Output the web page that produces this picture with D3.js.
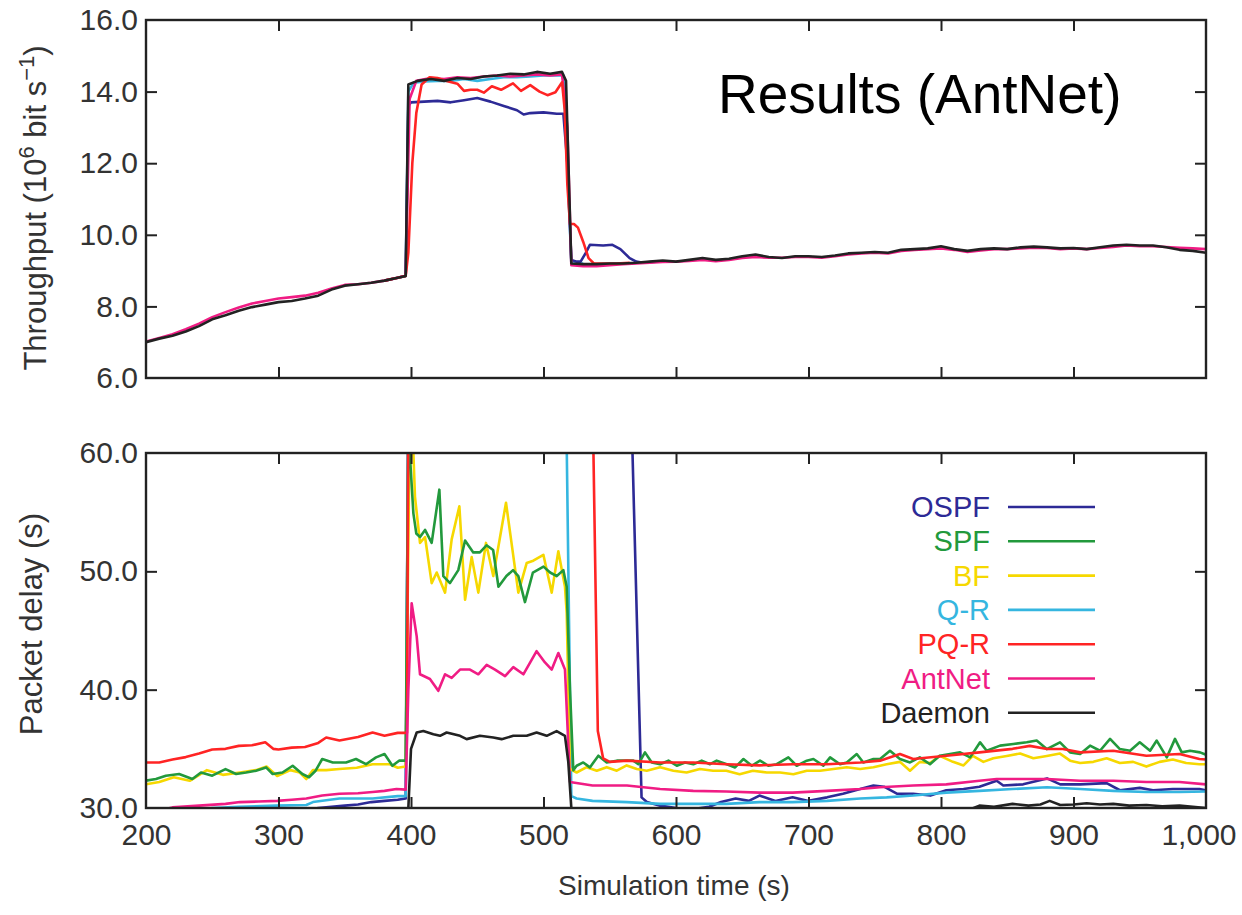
<!DOCTYPE html>
<html>
<head>
<meta charset="utf-8">
<script src="https://cdn.jsdelivr.net/npm/d3@7"></script>
<style>
  html, body { margin: 0; padding: 0; background: #fff; }
  svg { display: block; font-family: "Liberation Sans", Arial, Helvetica, sans-serif; }
</style>
</head>
<body>
<svg id="chart" width="1242" height="915"></svg>
<script>
// ---------------- DATA ----------------
const seriesNames = ["OSPF", "SPF", "BF", "Q-R", "PQ-R", "AntNet", "Daemon"];
const xTicks = [200, 300, 400, 500, 600, 700, 800, 900, 1000];
const throughputTicks = [6, 8, 10, 12, 14, 16];
const delayTicks = [30, 40, 50, 60];

// Throughput (10^6 bit/s) — [time, value]
const thrDaemon = [[200,7.0],[210,7.1],[220,7.18],[230,7.3],[240,7.45],[250,7.64],[260,7.75],[270,7.88],[280,7.98],[290,8.05],[300,8.12],[310,8.15],[320,8.22],[330,8.3],[340,8.47],[350,8.58],[360,8.62],[370,8.66],[380,8.72],[390,8.8],[396,8.85],[398,14.2],[405,14.3],[415,14.35],[425,14.3],[435,14.38],[445,14.35],[455,14.42],[465,14.45],[475,14.5],[485,14.48],[495,14.55],[505,14.5],[514,14.55],[517,14.3],[521,9.2],[530,9.18],[540,9.18],[550,9.2],[560,9.2],[570,9.22],[580,9.25],[590,9.28],[600,9.25],[610,9.3],[620,9.35],[630,9.3],[640,9.33],[650,9.4],[660,9.45],[670,9.38],[680,9.35],[690,9.4],[700,9.4],[710,9.38],[720,9.42],[730,9.48],[740,9.5],[750,9.52],[760,9.5],[770,9.58],[780,9.6],[790,9.62],[800,9.68],[810,9.6],[820,9.55],[830,9.6],[840,9.62],[850,9.6],[860,9.65],[870,9.67],[880,9.65],[890,9.62],[900,9.63],[910,9.6],[920,9.65],[930,9.7],[940,9.72],[950,9.7],[960,9.7],[970,9.65],[980,9.58],[990,9.55],[1000,9.5]];
const thrAntNet = [[200,7.02],[210,7.12],[220,7.22],[230,7.36],[240,7.52],[250,7.7],[260,7.84],[270,7.97],[280,8.08],[290,8.15],[300,8.22],[310,8.26],[320,8.3],[330,8.38],[340,8.5],[350,8.6],[360,8.62],[370,8.66],[380,8.72],[390,8.8],[396,8.86],[399,13.8],[404,14.3],[415,14.38],[425,14.35],[435,14.4],[445,14.38],[455,14.42],[465,14.45],[475,14.42],[485,14.45],[495,14.48],[505,14.45],[514,14.48],[518,13.0],[521,9.15],[530,9.12],[540,9.12],[550,9.15],[560,9.18],[570,9.2],[580,9.22],[590,9.24],[600,9.25],[610,9.27],[620,9.3],[630,9.26],[640,9.3],[650,9.35],[660,9.38],[670,9.36],[680,9.36],[690,9.38],[700,9.38],[710,9.36],[720,9.4],[730,9.45],[740,9.48],[750,9.5],[760,9.48],[770,9.55],[780,9.58],[790,9.6],[800,9.62],[810,9.58],[820,9.52],[830,9.56],[840,9.6],[850,9.6],[860,9.62],[870,9.64],[880,9.63],[890,9.6],[900,9.62],[910,9.6],[920,9.63],[930,9.66],[940,9.7],[950,9.68],[960,9.68],[970,9.66],[980,9.64],[990,9.62],[1000,9.6]];
const thrPQR = [[380,8.72],[390,8.8],[396,8.85],[398,9.5],[401,12.0],[404,13.4],[408,14.2],[414,14.4],[420,14.38],[426,14.3],[435,14.22],[440,14.02],[445,14.05],[450,14.05],[455,13.97],[461,14.15],[468,14.05],[477,14.23],[483,14.02],[490,14.18],[497,14.0],[503,13.9],[509,13.98],[514,14.26],[516,13.5],[518,11.4],[520,10.3],[523,10.3],[526,10.2],[530,9.8],[534,9.35],[538,9.2],[545,9.2],[555,9.2],[565,9.22]];
const thrOSPF = [[380,8.72],[390,8.8],[396,8.85],[398,13.6],[400,13.7],[410,13.72],[420,13.74],[430,13.7],[440,13.76],[450,13.82],[460,13.72],[470,13.6],[480,13.48],[485,13.36],[490,13.4],[500,13.42],[510,13.38],[515,13.38],[518,12.0],[521,9.3],[525,9.25],[528,9.25],[532,9.5],[535,9.72],[545,9.7],[552,9.72],[558,9.6],[565,9.35],[570,9.25],[575,9.22],[585,9.25]];
const thrQR = [[390,8.8],[396,8.85],[398,14.0],[402,14.25],[410,14.28],[420,14.3],[430,14.3],[440,14.35],[450,14.3],[460,14.35],[470,14.4],[480,14.4],[490,14.42],[500,14.45],[510,14.45],[515,14.45],[518,12.0],[521,9.2],[530,9.2]];

// Packet delay (s) — [time, value]
const delOSPF = [[200,29.0],[250,29.3],[300,29.6],[320,29.8],[330,30.0],[340,30.1],[350,30.2],[360,30.3],[370,30.5],[380,30.6],[390,30.7],[396,30.8],[398,65],[566,65],[574,30.9],[578,30.5],[588,30.2],[600,30.0],[612,29.9],[625,30.1],[634,30.5],[645,30.8],[655,30.6],[663,31.05],[675,30.6],[688,30.9],[700,30.6],[714,30.9],[726,31.2],[739,31.6],[749,31.9],[757,31.8],[767,31.2],[779,31.2],[792,31.05],[804,31.5],[817,31.6],[829,31.8],[842,32.3],[847,31.9],[862,32.0],[880,32.5],[890,32.0],[905,32.0],[925,32.1],[935,31.5],[950,31.7],[960,31.5],[975,31.6],[995,31.6],[1000,31.5]];
const delSPF = [[200,32.31],[207.5,32.45],[215,32.73],[225,32.87],[235,32.45],[241.5,33.0],[250,32.73],[260,33.29],[268,32.87],[275.5,33.0],[283,33.15],[290.6,33.43],[295.6,32.87],[303,33.0],[310.7,33.57],[318,32.87],[323,32.6],[328,33.15],[333,34.14],[341,33.85],[351,33.85],[358.5,34.14],[366,33.7],[373.6,34.28],[380,34.56],[386,33.57],[391,34.0],[396,34.0],[398,62],[401.8,54.9],[404,53.2],[406.8,52.9],[410.6,53.5],[415.6,52.4],[421.4,56.9],[424.4,49.6],[429.4,49.0],[435.7,50.1],[440.8,52.6],[447,51.6],[452,51.6],[457,52.2],[462,51.8],[466,48.7],[472,49.6],[477,50.1],[481,49.6],[486,47.4],[492,49.9],[500,50.4],[505,49.9],[510,49.6],[515,50.1],[517.5,48.7],[520,40.0],[522.5,33.2],[525,33.57],[530,33.85],[535,33.43],[541.4,34.42],[547.7,33.85],[555.3,34.0],[562.8,34.0],[567.8,34.0],[571.6,33.7],[576.6,34.7],[581.7,33.85],[588,33.7],[594.3,34.0],[600.6,33.57],[606.8,33.85],[613.1,33.7],[619.4,34.0],[625.7,33.7],[630.7,34.0],[638.3,33.7],[644.6,33.43],[650.9,34.14],[657.2,33.57],[663.4,34.0],[669.7,33.57],[676,33.7],[684.8,34.28],[691.1,33.57],[698.7,34.0],[703.7,34.14],[711.2,33.57],[716.3,34.28],[723.8,33.7],[728.9,33.85],[736.4,34.56],[741.4,33.85],[749,34.14],[754,34.14],[761.5,34.84],[769,34.14],[776.6,33.85],[784,34.28],[791.7,33.7],[799,34.42],[806.8,34.56],[814.4,34.7],[822,34.28],[829.5,35.55],[834.5,34.84],[844.6,35.27],[854.6,35.41],[864.7,35.55],[872.2,35.7],[879.8,34.98],[889.8,35.55],[897.4,34.7],[905,34.56],[912.5,35.27],[920,34.84],[927.6,35.84],[935,34.98],[942.7,34.84],[950,35.55],[957.8,34.84],[962.8,35.7],[970.4,34.28],[976.6,35.84],[981.7,34.7],[988,34.84],[995.5,34.7],[1000,34.5]];
const delBF = [[200,32.0],[210,32.2],[221,32.6],[233,32.3],[246,33.2],[258,32.8],[271,33.0],[283,33.2],[291,33.5],[299,32.7],[309,33.2],[316,33.0],[321,32.45],[326,33.2],[336,33.2],[346,33.3],[359,33.4],[371,33.7],[380,33.7],[384,33.7],[390,33.4],[396,33.5],[399,62],[401.8,60],[403,56.3],[406.8,52.4],[410.6,52.9],[415.6,49.0],[419.4,49.9],[425.7,48.2],[430.7,52.7],[436.5,55.5],[440.8,47.6],[445.8,51.2],[450.8,48.2],[456.6,52.4],[462.1,49.6],[471.7,55.8],[481,48.2],[487.3,50.7],[492.3,50.9],[499.9,51.4],[506.2,48.2],[511.2,51.7],[516.2,48.7],[517.5,46.5],[520,33.3],[525,33.0],[532.6,33.45],[540.2,33.15],[547.7,33.45],[555.3,33.15],[562.8,33.6],[570.4,33.3],[577.9,33.15],[588,33.45],[598,33.15],[608,33.0],[618,33.3],[628,33.15],[638,33.15],[648,32.85],[658,33.15],[668.5,33.0],[678.5,33.0],[688.6,32.85],[698.7,33.15],[708.7,33.15],[718.8,33.3],[728.9,33.45],[739,33.3],[749,33.45],[759,33.7],[769,33.9],[776.6,33.15],[784,33.9],[791.7,33.8],[799,34.4],[809,33.9],[817,33.6],[824,34.4],[832,33.9],[839.5,34.2],[849.6,34.4],[859.7,34.6],[869.7,34.2],[879.8,34.4],[889.8,34.6],[897.4,34.0],[905,33.8],[915,33.9],[925,34.2],[935,33.8],[945,33.9],[955,33.5],[965,33.9],[975,34.1],[985,33.8],[995,33.7],[1000,33.7]];
const delQR = [[200,29.0],[230,29.5],[250,30.0],[270,30.1],[298,30.2],[321,30.25],[326,30.5],[346,30.8],[371,30.8],[390,31.0],[396,31.0],[398,65],[517,65],[521,31.0],[525,30.8],[537,30.6],[563,30.5],[588,30.35],[613,30.35],[638,30.35],[663,30.5],[688,30.5],[714,30.6],[739,30.8],[759,30.9],[779,31.05],[804,31.3],[829,31.45],[854,31.6],[880,31.75],[905,31.6],[930,31.45],[955,31.35],[980,31.35],[1000,31.4]];
const delPQR = [[200,33.85],[210,33.85],[220,34.1],[230,34.3],[240,34.6],[250,34.95],[260,35.0],[270,35.25],[280,35.3],[290,35.55],[296,35.0],[300,34.95],[310,35.1],[320,35.15],[330,35.5],[336,35.96],[346,35.7],[360,36.0],[371,36.38],[380,36.1],[390,36.35],[397,36.35],[398,65],[537,65],[541,36.5],[545,34.2],[550,33.9],[563,34.0],[588,33.85],[613,33.85],[638,33.7],[663,33.6],[688,33.7],[714,33.7],[739,33.85],[754,34.0],[769,34.56],[779,34.14],[804,34.42],[829,34.7],[854,35.0],[867,35.25],[880,34.98],[892,34.98],[905,34.7],[930,34.84],[955,34.42],[980,34.56],[995,34.14],[1000,34.1]];
const delAntNet = [[200,29.6],[210,29.8],[220,30.05],[240,30.2],[260,30.35],[271,30.5],[285,30.55],[299,30.6],[310,30.7],[321,30.8],[333,31.05],[346,31.2],[360,31.25],[371,31.35],[380,31.45],[389,31.6],[396,31.55],[398,40.0],[400.5,47.3],[404.3,44.5],[406.8,41.3],[414.3,40.9],[420.6,39.9],[425.7,41.3],[430.7,41.0],[437,41.7],[444.5,41.7],[450.8,41.3],[457.1,42.1],[463.4,41.7],[471,41.15],[477.2,41.9],[484.8,41.3],[494.8,43.25],[501.1,42.3],[506.2,41.7],[511.2,43.1],[516.2,41.7],[520,32.2],[537,31.9],[563,31.9],[588,31.6],[613,31.45],[638,31.4],[663,31.3],[688,31.3],[714,31.45],[739,31.6],[754,31.75],[779,31.9],[804,32.0],[829,32.3],[842,32.45],[854,32.45],[880,32.45],[905,32.3],[930,32.3],[955,32.2],[980,32.2],[1000,32.0]];
const delDaemon = [[200,29.0],[300,29.2],[396,29.5],[398,30.0],[400,35.0],[404.3,36.38],[409.3,36.5],[416.9,36.24],[421.9,36.1],[426.9,36.38],[437,36.1],[442,35.82],[452,36.1],[462.1,35.96],[468.4,35.82],[477.2,36.1],[487.3,36.1],[494.8,36.38],[502.4,36.1],[509.9,36.5],[516.2,36.1],[518.7,33.9],[521.3,29.5],[600,29.3],[700,29.4],[800,29.6],[820,29.8],[829,30.2],[840,30.1],[854,30.35],[866,30.2],[875,30.3],[882,30.6],[890,30.25],[900,30.3],[910,30.4],[920,30.3],[930,30.35],[942,30.2],[955,30.25],[967,30.15],[980,30.2],[990,30.1],[1000,30.0]];

// ---------------- STYLE ----------------
const colors = {
  "OSPF": "#2d2a96",
  "SPF": "#22993c",
  "BF": "#f6d800",
  "Q-R": "#35b6e0",
  "PQ-R": "#ff2424",
  "AntNet": "#f01c84",
  "Daemon": "#222222"
};

const svg = d3.select("#chart");
const L = 146, R = 1206;
const top1 = 20, bot1 = 378;
const top2 = 453, bot2 = 808;
const textCol = "#333";

const x = d3.scaleLinear().domain([200, 1000]).range([L, R]);
const y1 = d3.scaleLinear().domain([6, 16]).range([bot1, top1]);
const y2 = d3.scaleLinear().domain([30, 60]).range([bot2, top2]);

const defs = svg.append("defs");
defs.append("clipPath").attr("id", "clip1").append("rect")
  .attr("x", L).attr("y", top1).attr("width", R - L).attr("height", bot1 - top1);
defs.append("clipPath").attr("id", "clip2").append("rect")
  .attr("x", L).attr("y", top2).attr("width", R - L).attr("height", bot2 - top2);

function drawPanel(yScale, yTicks, yTop, yBot, clipId, lines, showXLabels) {
  const g = svg.append("g");
  const lineGen = d3.line().x(d => x(d[0])).y(d => yScale(d[1]));
  const lg = g.append("g").attr("clip-path", `url(#${clipId})`);
  lines.forEach(([name, data]) => {
    lg.append("path").datum(data)
      .attr("d", lineGen)
      .attr("fill", "none")
      .attr("stroke", colors[name])
      .attr("stroke-width", 2.6)
      .attr("stroke-linejoin", "round");
  });

  const styleAxis = sel => {
    sel.select(".domain").remove();
    sel.selectAll(".tick line").attr("stroke", "#222").attr("stroke-width", 2);
    sel.selectAll(".tick text").attr("fill", textCol)
      .style("font-family", "'Liberation Sans', Arial, sans-serif")
      .style("font-size", "30px");
  };

  g.append("g").attr("transform", `translate(${L},0)`)
    .call(d3.axisLeft(yScale).tickValues(yTicks).tickFormat(d3.format(".1f"))
      .tickSizeInner(-11).tickSizeOuter(0).tickPadding(8))
    .call(styleAxis)
    .call(s => s.selectAll(".tick").filter(d => d === yTicks[0] || d === yTicks[yTicks.length - 1]).select("line").remove());
  g.append("g").attr("transform", `translate(${R},0)`)
    .call(d3.axisRight(yScale).tickValues(yTicks).tickFormat("")
      .tickSizeInner(-11).tickSizeOuter(0))
    .call(styleAxis)
    .call(s => s.selectAll(".tick").filter(d => d === yTicks[0] || d === yTicks[yTicks.length - 1]).remove());

  const xb = g.append("g").attr("transform", `translate(0,${yBot})`)
    .call(d3.axisBottom(x).tickValues(xTicks)
      .tickFormat(showXLabels ? d3.format(",") : "")
      .tickSizeInner(-11).tickSizeOuter(0).tickPadding(16))
    .call(styleAxis);
  xb.selectAll(".tick").filter(d => d === 200 || d === 1000).select("line").remove();
  // last label is pulled inside the page edge, as in the reference
  xb.selectAll(".tick").filter(d => d === 1000).select("text")
    .attr("text-anchor", "end").attr("x", 30);
  g.append("g").attr("transform", `translate(0,${yTop})`)
    .call(d3.axisTop(x).tickValues(xTicks).tickFormat("")
      .tickSizeInner(-11).tickSizeOuter(0))
    .call(styleAxis)
    .call(s => s.selectAll(".tick").filter(d => d === 200 || d === 1000).remove());

  g.append("rect").attr("x", L).attr("y", yTop)
    .attr("width", R - L).attr("height", yBot - yTop)
    .attr("fill", "none").attr("stroke", "#222").attr("stroke-width", 2.4);
  return g;
}

// Top panel: throughput
drawPanel(y1, throughputTicks, top1, bot1, "clip1", [
  ["Q-R", thrQR], ["OSPF", thrOSPF], ["AntNet", thrAntNet], ["PQ-R", thrPQR], ["Daemon", thrDaemon]
], false);

// Bottom panel: packet delay
drawPanel(y2, delayTicks, top2, bot2, "clip2", [
  ["OSPF", delOSPF], ["Q-R", delQR], ["BF", delBF], ["SPF", delSPF], ["PQ-R", delPQR], ["AntNet", delAntNet], ["Daemon", delDaemon]
], true);

// Title inside top panel
svg.append("text").attr("x", 718).attr("y", 113)
  .attr("fill", "#000").style("font-size", "55px")
  .text("Results (AntNet)");

// Axis titles
const t1 = svg.append("text")
  .attr("transform", "translate(46,208) rotate(-90)")
  .attr("text-anchor", "middle").attr("fill", textCol).style("font-size", "31px");
t1.append("tspan").text("Throughput (10");
t1.append("tspan").attr("dy", -12).style("font-size", "22px").text("6");
t1.append("tspan").attr("dy", 12).text(" bit s");
t1.append("tspan").attr("dy", -12).style("font-size", "22px").text("\u22121");
t1.append("tspan").attr("dy", 12).text(")");

svg.append("text")
  .attr("transform", "translate(42,624) rotate(-90)")
  .attr("text-anchor", "middle").attr("fill", textCol).style("font-size", "31px")
  .text("Packet delay (s)");

svg.append("text").attr("x", 674).attr("y", 895)
  .attr("text-anchor", "middle").attr("fill", textCol).style("font-size", "28px")
  .text("Simulation time (s)");

// Legend
const legend = svg.append("g");
seriesNames.forEach((name, i) => {
  const yy = 507 + i * 34.3;
  legend.append("text").attr("x", 990).attr("y", yy + 10)
    .attr("text-anchor", "end").attr("fill", colors[name])
    .style("font-size", "29px").text(name);
  legend.append("line").attr("x1", 1008).attr("x2", 1095)
    .attr("y1", yy).attr("y2", yy)
    .attr("stroke", colors[name]).attr("stroke-width", 2.6);
});
</script>
</body>
</html>
